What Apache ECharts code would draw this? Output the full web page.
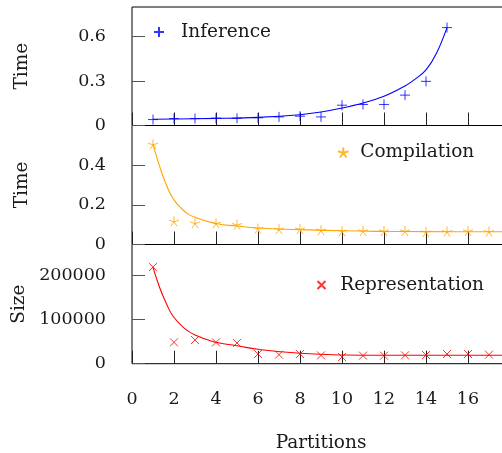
<!DOCTYPE html>
<html>
<head>
<meta charset="utf-8">
<script src="https://cdn.jsdelivr.net/npm/echarts@6/dist/echarts.min.js"></script>
<style>
html,body{margin:0;padding:0;background:#fff;}
#main{width:502px;height:453px;}
</style>
</head>
<body>
<div id="main"></div>
<script>
// ---- data ----
const partitions = [1,2,3,4,5,6,7,8,9,10,11,12,13,14,15,16,17];
const inferenceX = [1,2,3,4,5,6,7,8,9,10,11,12,13,14,15];
const inferenceTime = [0.040,0.047,0.047,0.049,0.049,0.052,0.058,0.063,0.058,0.137,0.142,0.142,0.205,0.298,0.661];
const compilationTime = [0.505,0.117,0.108,0.107,0.100,0.080,0.077,0.078,0.072,0.067,0.068,0.068,0.068,0.063,0.065,0.068,0.065];
const representationSize = [218800,48400,53600,48400,47000,21900,20400,21900,18900,15200,18200,18200,18900,19700,21900,21900,20400];

const inferenceFitX = [1,4,6,8,9,10,11,12,13,13.5,14,14.5,15];
const inferenceFitY = [0.042,0.048,0.055,0.073,0.091,0.118,0.152,0.197,0.267,0.315,0.375,0.488,0.661];
const decayFitX = [1,1.32,1.64,1.95,2.43,3,4,5,6,8,10,12,14,17,18];
const compilationFitY = [0.505,0.393,0.300,0.233,0.174,0.137,0.106,0.093,0.083,0.075,0.069,0.066,0.065,0.064,0.064];
const representationFitY = [218000,172000,136000,108000,83000,65000,48400,40700,32600,23500,19700,19000,19000,19000,19000];

const xTicks = [0,2,4,6,8,10,12,14,16];
const yTicksTop = [0,0.3,0.6];
const yTicksMid = [0,0.2,0.4];
const yTicksBot = [0,100000,200000];

const FONT = 'DejaVu Serif';
const FS_TICK = 17.5;
const FS = 18.5;
const TXT = '#1a1a1a';

const pairs = (xs, ys) => xs.map((x,i)=>[x, ys[i]]);

const PLUS = 'path://M5,0L5,10M0,5L10,5';
const CROSS = 'path://M0,0L10,10M0,10L10,0';
const STAR = 'path://M5,5L5,0M5,5L9.755,3.455M5,5L7.939,9.045M5,5L2.061,9.045M5,5L0.245,3.455';

const grids = [
  {left:132, width:378, top:7, height:118.5},
  {left:132, width:378, top:125.5, height:119},
  {left:132, width:378, top:244.5, height:119.2}
].map(g => Object.assign(g, {show:true, borderColor:'#000', borderWidth:1, backgroundColor:'transparent',
                              containLabel:false, outerBoundsMode:'none'}));

function xAxis(i){
  return {
    type:'value', gridIndex:i, min:0, max:18, interval:2,
    axisLine:{show:false},
    axisTick:{show:true, inside:true, length:13, lineStyle:{color:'#222', width:1}},
    axisLabel:{show:i===2, margin:27, fontFamily:FONT, fontSize:FS_TICK, color:TXT,
               customValues: xTicks},
    splitLine:{show:false},
    name: i===2 ? 'Partitions' : '',
    nameLocation:'middle', nameGap:70,
    nameTextStyle:{fontFamily:FONT, fontSize:FS, color:TXT}
  };
}
function yAxis(i, max, ticks, name){
  return {
    type:'value', gridIndex:i, min:0, max:max,
    axisLine:{show:false},
    axisTick:{show:true, inside:true, length:13, lineStyle:{color:'#555', width:1}, customValues:ticks},
    axisLabel:{margin:26, fontFamily:FONT, fontSize:FS_TICK, color:TXT, customValues:ticks,
               formatter: v => String(v)},
    splitLine:{show:false},
    name:name, nameLocation:'middle', nameGap:100,
    nameTextStyle:{fontFamily:FONT, fontSize:FS, color:TXT}
  };
}

const option = {
  backgroundColor:'#fff',
  animation:false,
  grid: grids,
  xAxis:[xAxis(0), xAxis(1), xAxis(2)],
  yAxis:[yAxis(0,0.8,yTicksTop,'Time'), yAxis(1,0.6,yTicksMid,'Time'), yAxis(2,270000,yTicksBot,'Size')],
  legend:[
    {data:['Inference'], left:148, top:17.5, itemWidth:34, itemHeight:10, itemGap:0,
     textStyle:{fontFamily:FONT, fontSize:FS, color:TXT}},
    {data:['Compilation'], left:332, top:138, itemWidth:24, itemHeight:10, itemGap:0,
     textStyle:{fontFamily:FONT, fontSize:FS, color:TXT}},
    {data:['Representation'], left:311.5, top:270.5, itemWidth:27.4, itemHeight:8, itemGap:0,
     textStyle:{fontFamily:FONT, fontSize:FS, color:TXT}}
  ],
  series:[
    {name:'Inference fit', type:'line', xAxisIndex:0, yAxisIndex:0, data:pairs(inferenceFitX, inferenceFitY),
     smooth:0.4, showSymbol:false, lineStyle:{color:'#0000ff', width:1.1}, silent:true},
    {name:'Inference', type:'scatter', xAxisIndex:0, yAxisIndex:0, data:pairs(inferenceX, inferenceTime),
     symbol:PLUS, symbolSize:10, itemStyle:{color:'#0000ff', borderColor:'#0000ff', borderWidth:1}},
    {name:'Compilation fit', type:'line', xAxisIndex:1, yAxisIndex:1, data:pairs(decayFitX, compilationFitY),
     smooth:0.5, showSymbol:false, lineStyle:{color:'#ffa500', width:1.1}, silent:true},
    {name:'Compilation', type:'scatter', xAxisIndex:1, yAxisIndex:1, data:pairs(partitions, compilationTime),
     symbol:STAR, symbolSize:10, itemStyle:{color:'#ffa500', borderColor:'#ffa500', borderWidth:1}},
    {name:'Representation fit', type:'line', xAxisIndex:2, yAxisIndex:2, data:pairs(decayFitX, representationFitY),
     smooth:0.5, showSymbol:false, lineStyle:{color:'#ff0000', width:1.1}, silent:true},
    {name:'Representation', type:'scatter', xAxisIndex:2, yAxisIndex:2, data:pairs(partitions, representationSize),
     symbol:CROSS, symbolSize:8, itemStyle:{color:'#ff0000', borderColor:'#ff0000', borderWidth:1}}
  ]
};
const chart = echarts.init(document.getElementById('main'), null, {renderer:'canvas'});
chart.setOption(option);
</script>
</body>
</html>
